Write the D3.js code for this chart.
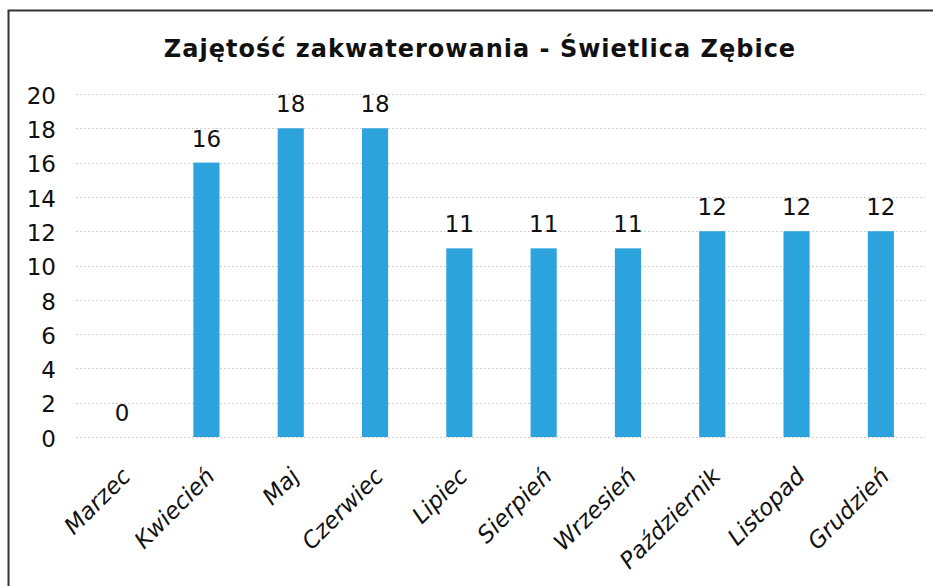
<!DOCTYPE html>
<html>
<head>
<meta charset="utf-8">
<script src="https://cdn.jsdelivr.net/npm/d3@7"></script>
<style>
	body { margin: 0; background: #fff; }
	svg text { font-family: 'DejaVu Sans', Verdana, sans-serif; fill: #111; }
</style>
</head>
<body>
<div id="chart"></div>
<script>
var months = ['Marzec', 'Kwiecień', 'Maj', 'Czerwiec', 'Lipiec', 'Sierpień',
	'Wrzesień', 'Październik', 'Listopad', 'Grudzień'];
var occupancy = [0, 16, 18, 18, 11, 11, 11, 12, 12, 12];
var yTicks = [0, 2, 4, 6, 8, 10, 12, 14, 16, 18, 20];
var title = 'Zajętość zakwaterowania - Świetlica Zębice';

var width = 933, height = 586;
var plot = { left: 80, right: 923, top: 94, bottom: 437 };

var svg = d3.select('#chart')
	.append('svg')
	.attr('width', width)
	.attr('height', height);

// outer frame
svg.append('rect')
	.attr('x', 8.5)
	.attr('y', 10.5)
	.attr('width', 940)
	.attr('height', 600)
	.attr('fill', 'none')
	.attr('stroke', '#333')
	.attr('stroke-width', 2);

svg.append('text')
	.attr('x', 480)
	.attr('y', 57)
	.attr('text-anchor', 'middle')
	.style('font-size', '24px')
	.style('font-weight', 'bold')
	.style('letter-spacing', '1px')
	.text(title);

var x = d3.scaleBand()
	.domain(months)
	.range([plot.left, plot.right])
	.paddingInner(0.69)
	.paddingOuter(0.345);

var y = d3.scaleLinear()
	.domain([0, 20])
	.range([plot.bottom, plot.top]);

// gridlines
svg.append('g')
	.selectAll('line')
	.data(yTicks)
	.enter()
	.append('line')
	.attr('x1', plot.left - 4)
	.attr('x2', plot.right + 2)
	.attr('y1', function (d) { return Math.round(y(d)) + 0.5; })
	.attr('y2', function (d) { return Math.round(y(d)) + 0.5; })
	.attr('stroke', '#d2d2d2')
	.attr('stroke-width', 1)
	.attr('stroke-dasharray', '2,2');

// y axis
var yAxis = svg.append('g')
	.attr('transform', 'translate(' + 56 + ',0)')
	.call(d3.axisLeft(y).tickValues(yTicks).tickSize(0).tickPadding(0));
yAxis.select('.domain').remove();
yAxis.selectAll('text')
	.style('font-size', '23px')
	.attr('dy', '0.4em');

// bars
svg.append('g')
	.selectAll('rect')
	.data(occupancy)
	.enter()
	.append('rect')
	.attr('x', function (d, i) { return x(months[i]); })
	.attr('y', function (d) { return y(d); })
	.attr('width', x.bandwidth())
	.attr('height', function (d) { return y(0) - y(d); })
	.attr('fill', '#2ca3dc');

// value labels
svg.append('g')
	.selectAll('text')
	.data(occupancy)
	.enter()
	.append('text')
	.attr('x', function (d, i) { return x(months[i]) + x.bandwidth() / 2; })
	.attr('y', function (d) { return y(d) - 16; })
	.attr('text-anchor', 'middle')
	.style('font-size', '23px')
	.text(function (d) { return d; });

// x axis labels
var xAxis = svg.append('g')
	.attr('transform', 'translate(0,' + 472 + ')')
	.call(d3.axisBottom(x).tickSize(0).tickPadding(0));
xAxis.select('.domain').remove();
xAxis.selectAll('text')
	.style('font-size', '23px')
	.style('font-style', 'italic')
	.attr('text-anchor', 'end')
	.attr('y', 0)
	.attr('dy', '0.35em')
	.attr('transform', 'translate(4,0) rotate(-45)');
</script>
</body>
</html>
